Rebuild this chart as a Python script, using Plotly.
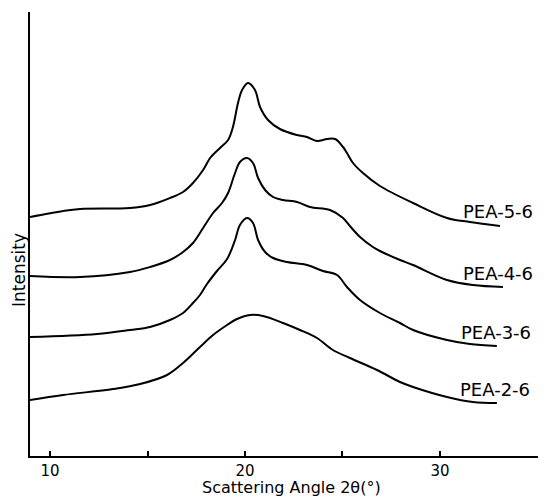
import plotly.graph_objects as go

# Scattering angle (deg) and intensity (arbitrary, offset curves)
angle_5 = [8.97, 10.67, 11.54, 14.10, 15.13, 16.15, 16.82, 17.33, 17.85, 18.21, 18.72, 19.13,
           19.38, 19.64, 19.85, 20.15, 20.51, 20.77, 21.18, 21.79, 22.67, 23.18, 23.69, 24.21, 24.62,
           25.03, 25.23, 25.54, 26.05, 26.92, 28.62, 30.36, 31.54, 33.08]
inten_5 = [239, 245, 247, 248, 251, 258, 264, 273, 286, 298, 308, 316,
           329, 353, 366, 373, 366, 349, 336, 327, 321, 319, 315, 317, 317,
           309, 303, 293, 283, 270, 253, 238, 234, 230]

angle_4 = [8.97, 11.54, 14.10, 15.13, 16.15, 16.82, 17.33, 17.85, 18.36, 18.82, 19.13, 19.49, 19.74,
           20.10, 20.41, 20.67, 21.03, 21.44, 21.95, 22.67, 23.33, 24.36, 25.03, 25.38, 25.90, 26.56,
           26.92, 27.95, 28.62, 30.36, 31.69, 33.23]
inten_4 = [180, 179, 184, 189, 196, 204, 213, 228, 243, 253, 263, 283, 294,
           298, 293, 278, 266, 259, 256, 254, 249, 246, 238, 230, 219, 209,
           205, 196, 191, 176, 171, 169]

angle_3 = [8.97, 12.41, 14.10, 15.13, 16.15, 16.82, 17.33, 17.69, 18.05, 18.56, 19.08, 19.49, 19.74,
           20.10, 20.41, 20.67, 21.03, 21.44, 22.15, 23.18, 24.00, 24.72, 25.23, 25.90, 26.92, 27.95,
           28.62, 30.36, 31.54, 32.92]
inten_3 = [119, 122, 126, 129, 136, 143, 153, 161, 172, 185, 197, 216, 231,
           238, 233, 216, 204, 198, 194, 191, 185, 181, 169, 156, 143, 133,
           126, 116, 112, 110]

angle_2 = [8.97, 10.67, 13.23, 14.62, 16.00, 16.82, 17.69, 18.36, 19.08, 19.59, 20.26, 20.92,
           21.95, 22.82, 23.69, 24.51, 25.38, 26.77, 27.95, 28.62, 30.36, 31.69, 32.92]
inten_2 = [56, 61, 67, 72, 81, 93, 109, 121, 131, 137, 141, 140,
           133, 126, 118, 106, 98, 86, 74, 69, 59, 54, 53]

series_names = ["PEA-5-6", "PEA-4-6", "PEA-3-6", "PEA-2-6"]
label_angle = [31.08, 31.08, 30.98, 30.92]
label_inten = [245, 183, 124, 67]

x_tickvals = [10, 15, 20, 25, 30]
x_ticktext = ["10", "", "20", "", "30"]

FONT = "DejaVu Sans"

fig = go.Figure()
for xs, ys, name in zip([angle_5, angle_4, angle_3, angle_2],
                        [inten_5, inten_4, inten_3, inten_2], series_names):
    fig.add_trace(go.Scatter(x=xs, y=ys, mode="lines", name=name,
                             line=dict(color="black", width=2, shape="spline", smoothing=1.0),
                             showlegend=False, hoverinfo="skip"))

for name, ax, ay in zip(series_names, label_angle, label_inten):
    fig.add_annotation(x=ax, y=ay, text=name, showarrow=False, xanchor="left", yanchor="middle",
                       font=dict(family=FONT, size=18, color="black"))

# axis titles as annotations for exact placement
fig.add_annotation(x=0, xref="paper", xshift=-11, y=186, yref="y", text="Intensity",
                   textangle=-90, showarrow=False, xanchor="center", yanchor="middle",
                   font=dict(family=FONT, size=17, color="black"))
fig.add_annotation(x=0.5, xref="paper", xshift=3, y=0, yref="paper", yshift=-42,
                   text="Scattering Angle 2θ(°)", showarrow=False,
                   xanchor="center", yanchor="bottom", borderpad=0,
                   font=dict(family=FONT, size=16, color="black"))

fig.update_layout(
    width=538, height=491,
    margin=dict(l=22, r=0, t=4, b=43, autoexpand=False),
    paper_bgcolor="white", plot_bgcolor="white",
    font=dict(family=FONT, size=16, color="black"),
    xaxis=dict(range=[8.97, 35.44], tickvals=x_tickvals, ticktext=x_ticktext,
               ticks="inside", ticklen=5, tickwidth=1.5, tickcolor="black",
               ticklabelstandoff=0,
               showline=True, linecolor="black", linewidth=2, showgrid=False, zeroline=False,
               tickfont=dict(family=FONT, size=15)),
    yaxis=dict(range=[0, 444], showticklabels=False, ticks="",
               showline=True, linecolor="black", linewidth=2, showgrid=False, zeroline=False),
)

fig.write_html("out.html")
